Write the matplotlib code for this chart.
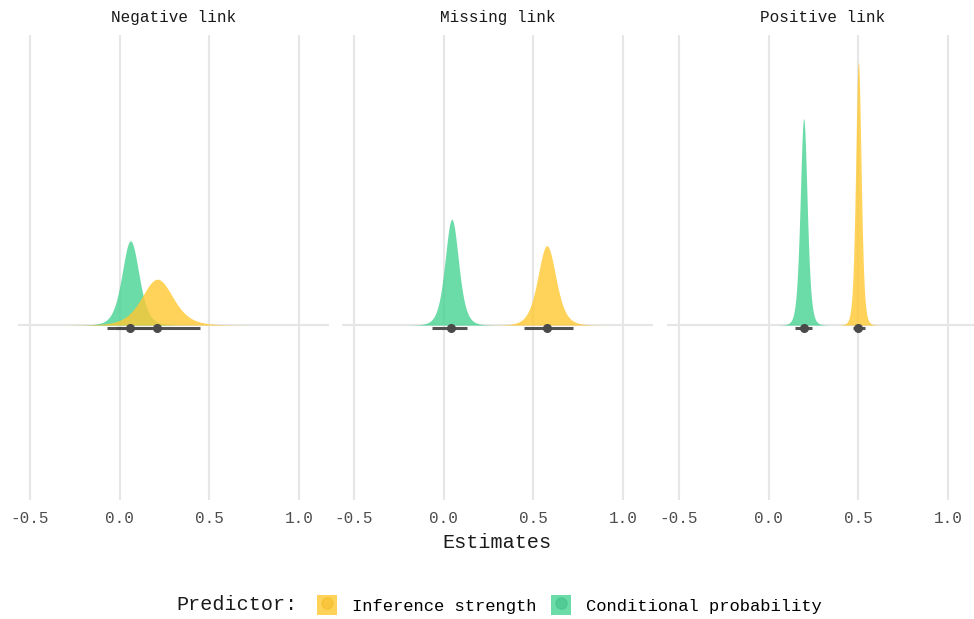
import numpy as np
import matplotlib
matplotlib.use("Agg")
import matplotlib.pyplot as plt
from matplotlib.patches import Patch
from matplotlib.lines import Line2D
from matplotlib.legend_handler import HandlerTuple

# ------------------------------------------------------------
# Data (posterior summaries per facet)
# ------------------------------------------------------------
facets = ["Negative link", "Missing link", "Positive link"]
predictors = ["Conditional probability", "Inference strength"]

# posterior means / sds for each facet, order = predictors
means = {
    "Negative link": [0.060, 0.210],
    "Missing link": [0.045, 0.575],
    "Positive link": [0.195, 0.500],
}
sds = {
    "Negative link": [0.049, 0.090],
    "Missing link": [0.039, 0.052],
    "Positive link": [0.020, 0.0157],
}
# point estimate and 95% interval
points = {
    "Negative link": [0.056, 0.206],
    "Missing link": [0.040, 0.575],
    "Positive link": [0.195, 0.500],
}
lo = {
    "Negative link": [-0.070, -0.020],
    "Missing link": [-0.067, 0.450],
    "Positive link": [0.145, 0.470],
}
hi = {
    "Negative link": [0.180, 0.446],
    "Missing link": [0.128, 0.720],
    "Positive link": [0.240, 0.535],
}

x_ticks = [-0.5, 0.0, 0.5, 1.0]
x_ticklabels = ["-0.5", "0.0", "0.5", "1.0"]

COLORS = {"Conditional probability": "#46D292", "Inference strength": "#FFC831"}
DOTS = {"Conditional probability": "#3bbf82", "Inference strength": "#f2b920"}
ALPHA = 0.8
GRID = "#e6e6e6"
INTERVAL = "#4a4a4a"
FONT = "Liberation Mono"

plt.rcParams["font.family"] = [FONT, "DejaVu Sans Mono"]

W, H = 974, 619
fig = plt.figure(figsize=(W / 100, H / 100), dpi=100)

panel_left = [18, 342, 667]
panel_w = 311
panel_top, panel_bot = 35, 500

xs = np.linspace(-0.6, 1.2, 3000)
dens_max = max(1 / s for f in facets for s in sds[f])

for i, f in enumerate(facets):
    ax = fig.add_axes([panel_left[i] / W, 1 - panel_bot / H,
                       panel_w / W, (panel_bot - panel_top) / H])
    ax.set_xlim(-0.567, 1.167)
    ax.set_ylim(-0.665, 1.103)
    for xt in x_ticks:
        ax.axvline(xt, color=GRID, lw=1.5, zorder=0)
    ax.axhline(0, color=GRID, lw=1.5, zorder=0)

    for j, p in enumerate(predictors):
        m, s = means[f][j], sds[f][j]
        # slightly heavy-tailed slab (t-like, 6 df)
        z = (xs - m) / s
        d = (1 + z ** 2 / 6) ** (-3.5) / s / dens_max
        d[d < 2e-4] = np.nan
        ax.fill_between(xs, 0, d, color=COLORS[p], alpha=ALPHA, lw=0, zorder=2 + j)

    for j, p in enumerate(predictors):
        ax.plot([lo[f][j], hi[f][j]], [-0.012, -0.012], color=INTERVAL, lw=2.2,
                solid_capstyle="butt", zorder=5, alpha=0.95)
        ax.plot(points[f][j], -0.012, "o", color=INTERVAL, ms=5.5, zorder=6)

    ax.set_xticks(x_ticks)
    ax.set_xticklabels(x_ticklabels, fontsize=11.5, color="#4d4d4d")
    ax.tick_params(axis="x", length=0, pad=8)
    ax.set_yticks([])
    for sp in ax.spines.values():
        sp.set_visible(False)
    ax.set_title(f, fontsize=11.5, color="#1a1a1a", pad=9)

fig.text(497 / W, 1 - 543 / H, "Estimates", ha="center", va="center",
         fontsize=14.5, color="#1a1a1a")

# legend
handles = []
labels = []
for p in ["Inference strength", "Conditional probability"]:
    box = Patch(facecolor=COLORS[p], alpha=ALPHA, edgecolor="none")
    dot = Line2D([], [], marker="o", ls="none", color=DOTS[p], ms=8, alpha=0.5)
    handles.append((box, dot))
    labels.append(p)

fig.text(176 / W, 1 - 605 / H, "Predictor:", ha="left", va="center",
         fontsize=14.5, color="#1a1a1a")
fig.legend(handles, labels, handler_map={tuple: HandlerTuple(ndivide=1, pad=0)},
           loc="center left", bbox_to_anchor=(308 / W, 1 - 605 / H), ncol=2,
           frameon=False, fontsize=12.3, handlelength=1.2, handleheight=1.45,
           handletextpad=0.85, columnspacing=0.85, borderpad=0)

fig.savefig("out.png", dpi=100)
